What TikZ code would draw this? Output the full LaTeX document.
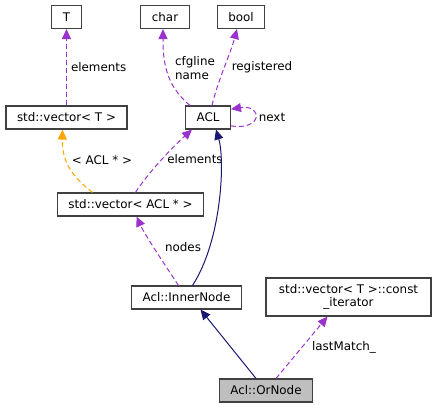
\documentclass[tikz,border=0pt]{standalone}
\usepackage{fontspec}
\setmainfont{DejaVu Sans}
\usetikzlibrary{arrows.meta,positioning}
\definecolor{member}{HTML}{9A32CD}
\definecolor{tmpl}{HTML}{FFA500}
\definecolor{inherit}{HTML}{191970}
\definecolor{boxline}{HTML}{404040}

\begin{document}
\begin{tikzpicture}
        [x=1pt, y=1pt,
          font=\fontsize{11.9}{13.5}\selectfont,
          cls/.style={draw=boxline, line width=1.1pt, minimum height=23pt, inner xsep=11pt, inner ysep=2pt, align=center},
          uses/.style={member, line width=1pt, dash pattern=on 5pt off 3pt, -{Triangle[length=10pt,width=9pt]}},
          instof/.style={uses, draw=tmpl, -{Triangle[length=10pt,width=9pt,fill=tmpl]}},
          isa/.style={inherit, line width=1pt, -{Triangle[length=10pt,width=9pt]}},
          lbl/.style={inner sep=1pt, align=left, text=black}]
        \useasboundingbox (0,0) rectangle (435,-409);
        \node[cls] (t) at (66.5,-17) {T};
        \node[cls] (char) at (165,-17) {char};
        \node[cls] (bool) at (241,-17) {bool};
        \node[cls] (vect) at (66.5,-117.5) {std::vector< T >};
        \node[cls] (acl) at (208,-117.5) {ACL};
        \node[cls] (vecacl) at (130.5,-204.5) {std::vector< ACL * >};
        \node[cls] (inner) at (186.5,-297.5) {Acl::InnerNode};
        \node[cls, minimum width=165pt, minimum height=38pt] (iter) at (348.5,-297) {std::vector< T >::const\\\_iterator};
        \node[cls, fill=black!25] (ornode) at (266,-390.5) {Acl::OrNode};
        \draw[uses] (vect.north) -- (t.south) node[lbl, midway, right=3pt] {elements};
        \draw[instof] ([xshift=-38pt]vecacl.north) .. controls (70,-175) and (62,-160) .. ([xshift=-4pt]vect.south);
        \node[lbl] (tmplbl) at (102,-160) {< ACL * >};
        \draw[uses] ([xshift=-18pt]acl.north) .. controls (165,-85) and (163,-60) .. ([xshift=-2pt]char.south);
        \node[lbl] (namelbl) at (195,-68) {cfgline\\name};
        \draw[uses] ([xshift=4pt]acl.north) .. controls (218,-80) and (230,-55) .. ([xshift=-4pt]bool.south);
        \node[lbl] (reglbl) at (262,-67) {registered};
        \draw[uses] (acl.-20) .. controls +(32,-5) and +(32,5) .. (acl.20);
        \node[lbl] (nextlbl) at (272,-117.5) {next};
        \draw[uses] ([xshift=5pt]vecacl.north) .. controls (150,-170) and (175,-145) .. ([xshift=-16pt]acl.south);
        \node[lbl] (elemlbl) at (195,-159) {elements};
        \draw[uses] ([xshift=-8pt]inner.north) .. controls (165,-265) and (145,-235) .. ([xshift=6pt]vecacl.south);
        \node[lbl] (nodeslbl) at (183,-247) {nodes};
        \draw[isa] ([xshift=6pt]inner.north) .. controls (222,-240) and (225,-160) .. ([xshift=8pt]acl.south);
        \draw[isa] ([xshift=-10pt]ornode.north) -- ([xshift=14pt]inner.south);
        \draw[uses] ([xshift=10pt]ornode.north) -- ([xshift=-21pt]iter.south);
        \node[lbl] (matchlbl) at (344,-347) {lastMatch\_};
\end{tikzpicture}
\end{document}
